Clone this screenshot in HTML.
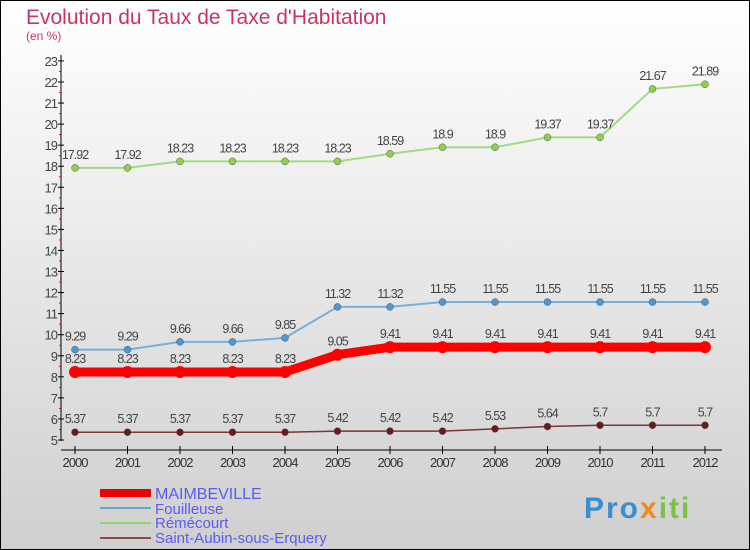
<!DOCTYPE html>
<html><head><meta charset="utf-8"><style>
body{margin:0}
#c{width:748px;height:548px;border:1px solid #000;position:relative;background:linear-gradient(#ffffff,#cfcfcf);font-family:"Liberation Sans",sans-serif;overflow:hidden}
</style></head><body>
<div id="c">
<svg width="748" height="548" viewBox="1 1 748 548" id="s">
<text x="26" y="24" font-size="21" fill="#c8365e">Evolution du Taux de Taxe d'Habitation</text>
<text x="26" y="40" font-size="12" fill="#c8365e">(en %)</text>
<g id="axes"></g><g id="series"></g>
<g>
<rect x="100" y="489" width="51" height="8" fill="#e00"/>
<text x="155" y="499" font-size="16" fill="#5b5bf0">MAIMBEVILLE</text>
<rect x="100" y="507" width="51" height="2" fill="#6fa3cc"/>
<text x="155" y="514" font-size="15" fill="#5b5bf0">Fouilleuse</text>
<rect x="100" y="522" width="51" height="2" fill="#8fd46c"/>
<text x="155" y="528" font-size="15" fill="#5b5bf0">Rémécourt</text>
<rect x="100" y="537" width="51" height="2" fill="#8a4a4a"/>
<text x="155" y="543" font-size="15" fill="#5b5bf0">Saint-Aubin-sous-Erquery</text>
</g>
<text x="584" y="518" font-size="30" font-weight="bold" letter-spacing="2" fill="#3a8fd0">Pro<tspan fill="#f08a1a">x</tspan><tspan fill="#7bc043">iti</tspan></text>
</svg></div>
<script>
const years=[2000,2001,2002,2003,2004,2005,2006,2007,2008,2009,2010,2011,2012];
const maimbeville=[8.23,8.23,8.23,8.23,8.23,9.05,9.41,9.41,9.41,9.41,9.41,9.41,9.41];
const fouilleuse=[9.29,9.29,9.66,9.66,9.85,11.32,11.32,11.55,11.55,11.55,11.55,11.55,11.55];
const remecourt=[17.92,17.92,18.23,18.23,18.23,18.23,18.59,18.9,18.9,19.37,19.37,21.67,21.89];
const saintAubin=[5.37,5.37,5.37,5.37,5.37,5.42,5.42,5.42,5.53,5.64,5.7,5.7,5.7];
const yTicks=[5,6,7,8,9,10,11,12,13,14,15,16,17,18,19,20,21,22,23];
const NS="http://www.w3.org/2000/svg";
const xs=i=>75+i*52.5, ys=v=>440-(v-5)*21.06;
function mk(t,a,p){const e=document.createElementNS(NS,t);for(const k in a)e.setAttribute(k,a[k]);p.appendChild(e);return e;}
const ax=document.getElementById('axes'),sg=document.getElementById('series');
let l=mk('line',{x1:61,y1:55,x2:61,y2:441,stroke:'#000'},ax);


l=mk('line',{x1:61,y1:450,x2:722,y2:450,stroke:'#000'},ax);


yTicks.forEach(v=>{const y=ys(v);
mk('line',{x1:58,x2:64,y1:y,y2:y,stroke:'#000'},ax);
if(v<23)mk('line',{x1:59,x2:61,y1:y-10.5,y2:y-10.5,stroke:'#f00'},ax);
const t=mk('text',{x:57,y:y+5,'font-size':13,fill:'#444','text-anchor':'end','letter-spacing':'-1'},ax);t.textContent=v;

});
years.forEach((yr,i)=>{const x=xs(i);mk('line',{x1:x,x2:x,y1:446,y2:454,stroke:'#000'},ax);
const t=mk('text',{x:x,y:467,'font-size':13,fill:'#333','text-anchor':'middle','letter-spacing':'-1'},ax);t.textContent=yr;

});
function series(d,col,dot,w,r,name){
const p=mk('polyline',{points:d.map((v,i)=>xs(i)+','+ys(v)).join(' '),fill:'none',stroke:col,'stroke-width':w},sg);


d.forEach((v,i)=>{const c=mk('circle',{cx:xs(i),cy:ys(v),r:r,fill:dot,stroke:'#555','stroke-width':w>5?0:0.5},sg);


const t=mk('text',{x:xs(i),y:ys(v)-9,'font-size':12.5,fill:'#444','text-anchor':'middle','letter-spacing':'-1'},sg);t.textContent=v;

});}
series(remecourt,'#9fdc80','#8fd04c',2,3.5,'remecourt');
series(fouilleuse,'#7aaed6','#4f97d0',2,3.5,'fouilleuse');
series(saintAubin,'#7a3535','#6a1a1a',1.5,3.5,'saint-aubin');
series(maimbeville,'#f00','#f00',9,6,'maimbeville');
</script></body></html>
